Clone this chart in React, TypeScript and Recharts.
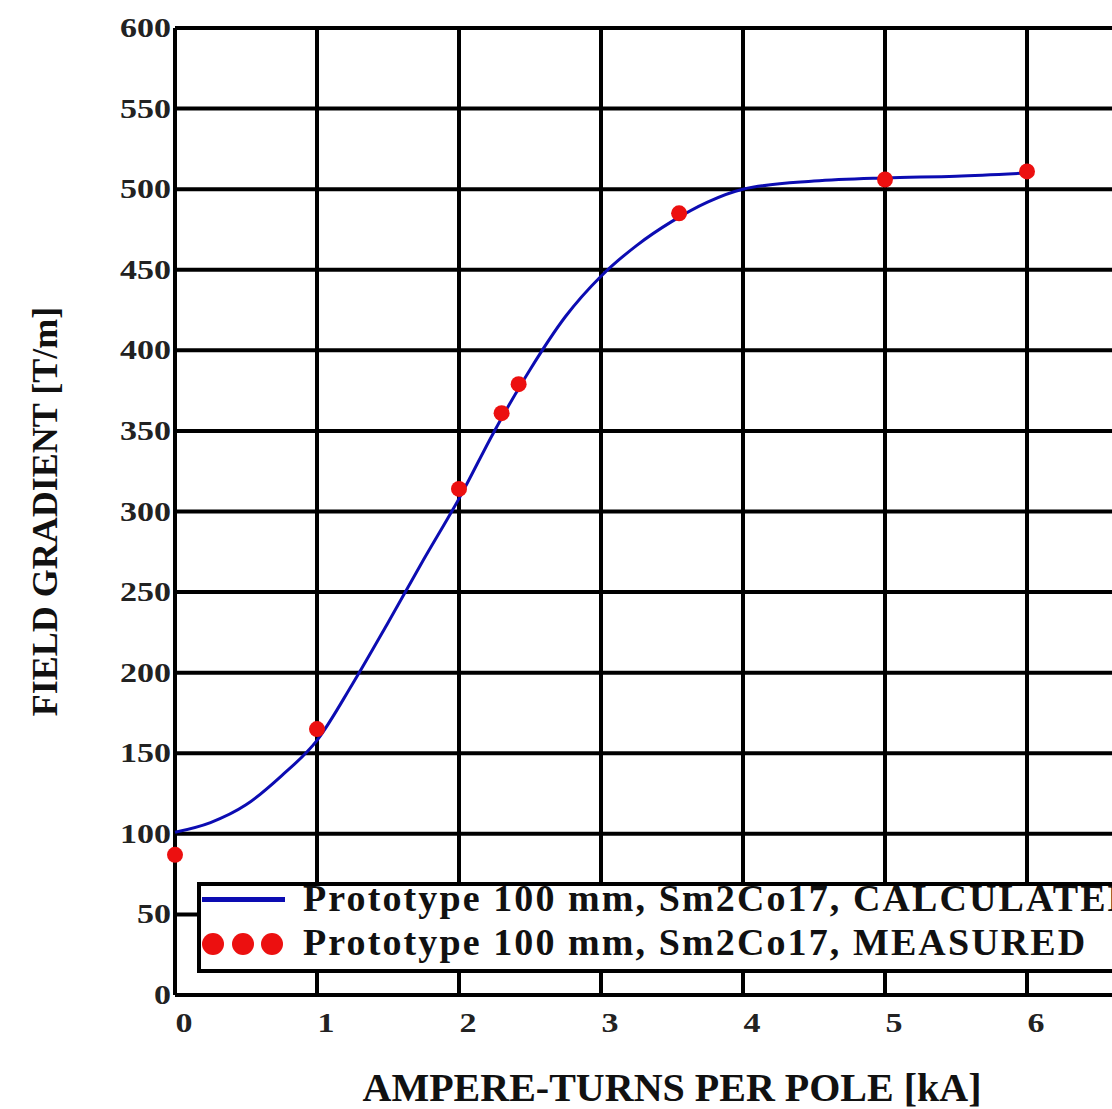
import React from "react"
import {
  ComposedChart,
  Line,
  Scatter,
  XAxis,
  YAxis,
  CartesianGrid,
} from "recharts"

// calculated curve, kA vs T/m
const calcKA = [0, 0.25, 0.5, 0.75, 1, 1.25, 1.5, 1.75, 2, 2.25, 2.5, 2.75, 3, 3.25, 3.5, 3.75, 4, 4.5, 5, 5.5, 6]
const calcGrad = [101, 107, 118, 136, 158, 193, 231, 270, 308, 350, 388, 421, 446, 465, 480, 492, 500, 505, 507, 508, 510]

// measured points
const measKA = [0, 1, 2, 2.3, 2.42, 3.55, 5, 6]
const measGrad = [87, 165, 314, 361, 379, 485, 506, 511]

const xTicks = [0, 1, 2, 3, 4, 5, 6]
const yTicks = [0, 50, 100, 150, 200, 250, 300, 350, 400, 450, 500, 550, 600]

const calcLabel = "Prototype 100 mm, Sm2Co17, CALCULATED"
const measLabel = "Prototype 100 mm, Sm2Co17, MEASURED"

const calcData = calcKA.map((x, i) => ({ x, calc: calcGrad[i] }))
const measData = measKA.map((x, i) => ({ x, meas: measGrad[i] }))

const FONT = "'Liberation Serif', 'Times New Roman', serif"
const BLUE = "#0c0cb2"
const RED = "#ec1010"

function YTick({ y, payload }: any) {
  const s = String(payload.value)
  return (
    <text
      x={171}
      y={y}
      textAnchor="end"
      dominantBaseline="central"
      fontFamily={FONT}
      fontWeight="bold"
      fontSize={27}
      fill="#222"
      textLength={s.length * 17}
      lengthAdjust="spacingAndGlyphs"
    >
      {s}
    </text>
  )
}

function XTick({ x, payload }: any) {
  const s = String(payload.value)
  return (
    <text
      x={x + 9}
      y={1023}
      textAnchor="middle"
      dominantBaseline="central"
      fontFamily={FONT}
      fontWeight="bold"
      fontSize={27}
      fill="#222"
      textLength={s.length * 17}
      lengthAdjust="spacingAndGlyphs"
    >
      {s}
    </text>
  )
}

function Dot(props: any) {
  const { cx, cy } = props
  return <circle cx={cx} cy={cy} r={8} fill={RED} />
}

function LegendBox() {
  const text = {
    position: "absolute" as const,
    left: 102,
    fontFamily: FONT,
    fontWeight: "bold" as const,
    fontSize: 38,
    lineHeight: "43px",
    letterSpacing: 2.1,
    whiteSpace: "nowrap" as const,
    color: "#111",
  }
  return (
    <div
      style={{
        position: "absolute",
        left: 197,
        top: 882,
        width: 1000,
        height: 83,
        border: "4px solid #000",
        background: "#fff",
      }}
    >
      <div style={{ position: "absolute", left: 1, top: 11, width: 83, height: 5, background: BLUE }} />
      {[12, 42, 71].map((l) => (
        <div
          key={l}
          style={{ position: "absolute", left: l - 11, top: 47, width: 22, height: 22, borderRadius: 11, background: RED }}
        />
      ))}
      <div style={{ ...text, top: -9 }}>{calcLabel}</div>
      <div style={{ ...text, top: 35 }}>{measLabel}</div>
    </div>
  )
}

export default function App() {
  return (
    <div
      style={{
        position: "fixed",
        left: 0,
        top: 0,
        width: 1112,
        height: 1109,
        overflow: "hidden",
        background: "#fff",
      }}
    >
      <ComposedChart
        width={1200}
        height={1109}
        margin={{ top: 28, right: 31, bottom: 0, left: 0 }}
      >
        <CartesianGrid stroke="#000" strokeWidth={4} />
        <XAxis
          dataKey="x"
          type="number"
          domain={[0, 7]}
          ticks={xTicks}
          height={114}
          axisLine={false}
          tickLine={false}
          tick={<XTick />}
          allowDuplicatedCategory={false}
          label={{
            value: "AMPERE-TURNS PER POLE [kA]",
            position: "insideBottom",
            offset: 8,
            style: { fontFamily: FONT, fontWeight: "bold", fontSize: 40, fill: "#111" },
          }}
        />
        <YAxis
          type="number"
          domain={[0, 600]}
          ticks={yTicks}
          width={175}
          axisLine={false}
          tickLine={false}
          tick={<YTick />}
          label={{
            value: "FIELD GRADIENT [T/m]",
            angle: -90,
            position: "insideLeft",
            offset: 44,
            style: { fontFamily: FONT, fontWeight: "bold", fontSize: 36, fill: "#111", textAnchor: "middle" },
          }}
        />
        <Line
          data={calcData}
          dataKey="calc"
          type="monotone"
          stroke={BLUE}
          strokeWidth={3}
          dot={false}
          isAnimationActive={false}
        />
        <Scatter
          data={measData}
          dataKey="meas"
          fill={RED}
          shape={<Dot />}
          isAnimationActive={false}
        />
      </ComposedChart>
      <LegendBox />
    </div>
  )
}
